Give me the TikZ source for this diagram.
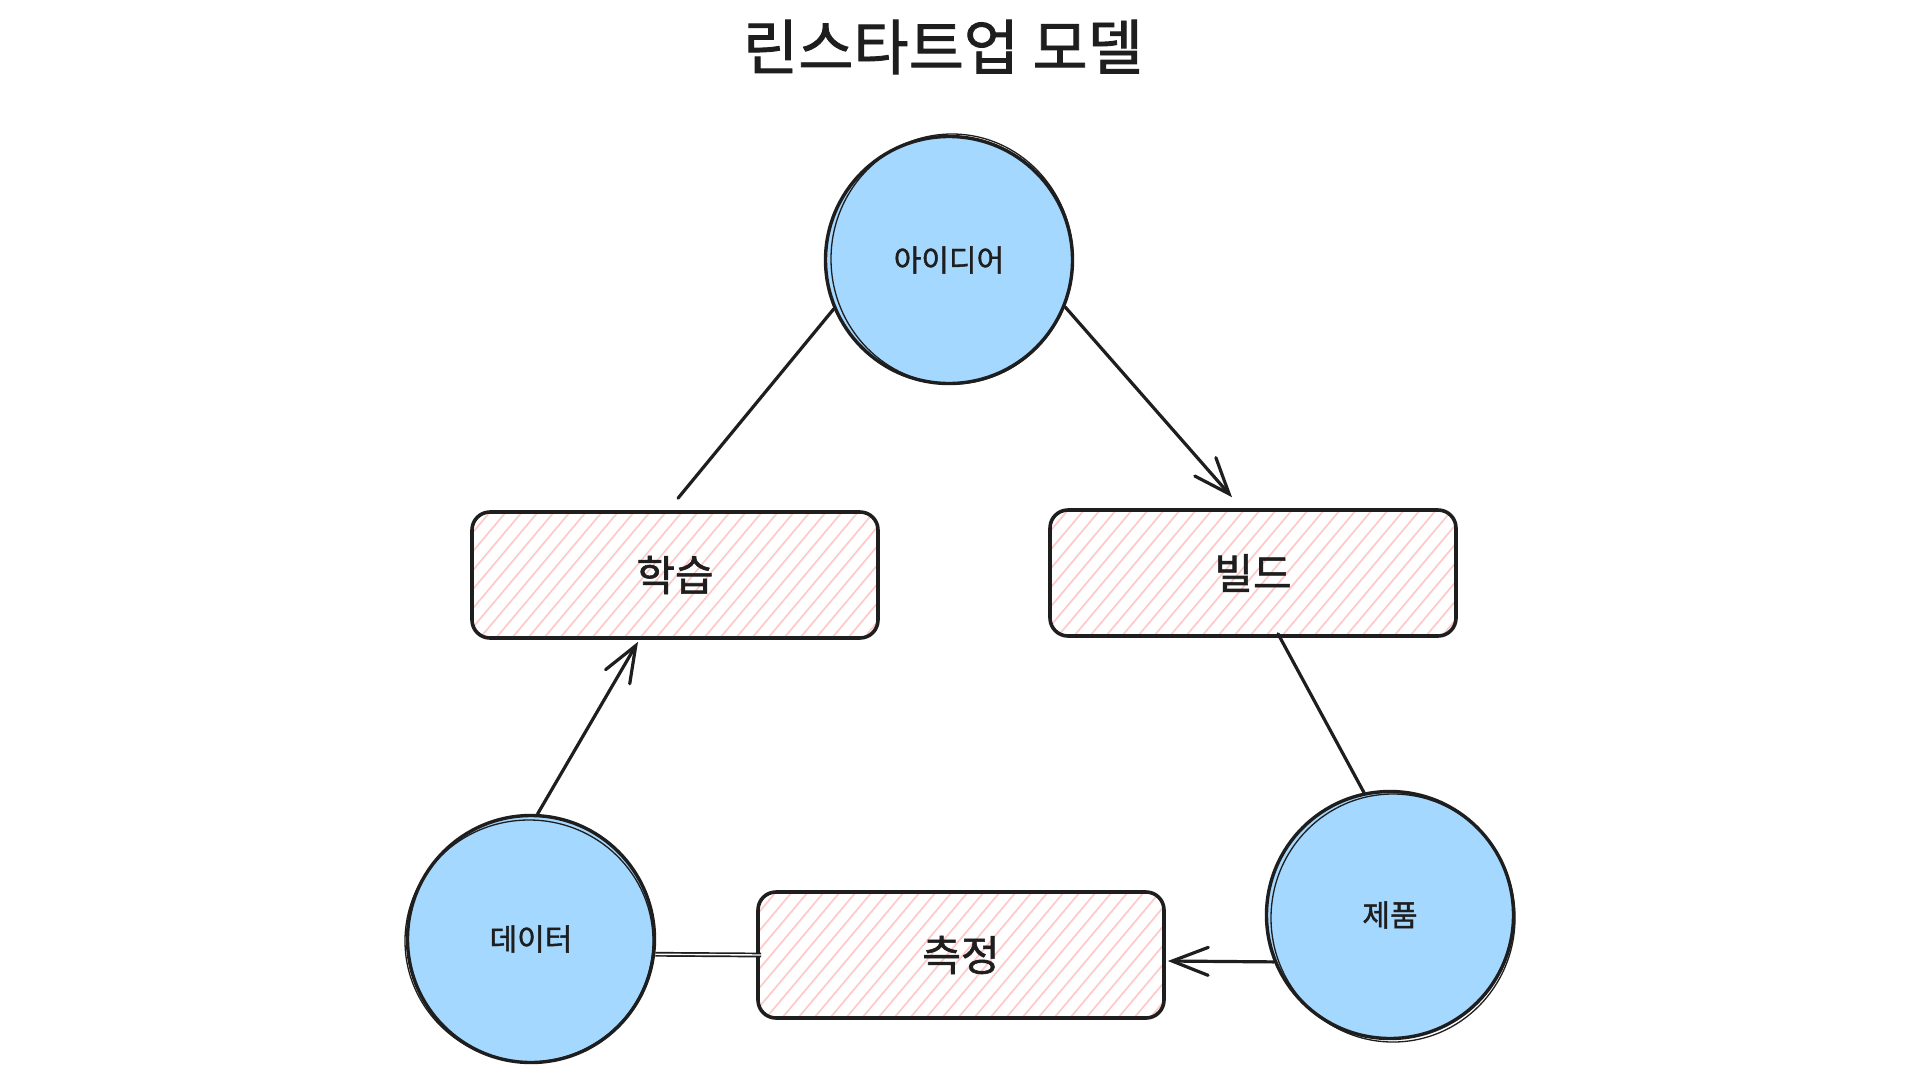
\documentclass[tikz,border=0pt]{standalone}
\usepackage{fontspec}
\setmainfont{Noto Sans CJK KR}
\newfontfamily\medfont{Noto Sans CJK KR}[FakeBold=1.4]
\usetikzlibrary{arrows.meta}
\definecolor{inkc}{HTML}{1E1E1E}
\definecolor{bluefill}{HTML}{A5D8FF}
\definecolor{hatchpink}{HTML}{FFC9C9}
\begin{document}
\begin{tikzpicture}[x=1pt,y=-1pt,
  circlenode/.style={circle, draw=inkc, fill=bluefill, line width=3.4pt,
    minimum size=247pt, inner sep=0pt, text=inkc,
    font=\fontsize{30}{34}\medfont},
  boxnode/.style={rectangle, rounded corners=18pt, draw=inkc, line width=3.6pt,
    minimum width=406pt, minimum height=126pt, text=inkc,
    font=\fontsize{42}{50}\medfont,
    path picture={\foreach \i in {-120,-104,...,420}
      \draw[hatchpink, line width=1.7pt]
        ([xshift=\i pt]path picture bounding box.south west) -- ++(106pt,126pt);}},
  sketch/.style={draw=inkc, line width=1.3pt},
  conn/.style={draw=inkc, line width=3.2pt, line cap=round},
  arr/.style={conn, -{Straight Barb[length=36pt,width=28pt,line cap=round]}}
]
\useasboundingbox (0,0) rectangle (1920,1080);
\fill[white] (0,0) rectangle (1920,1080);

\node[text=inkc, font=\fontsize{60}{70}\medfont] (title) at (943,47) {린스타트업 모델};

\node[circlenode] (idea) at (949,260) {아이디어};
\node[circlenode] (data) at (531,939) {데이터};
\node[circlenode] (prod) at (1390,915) {제품};

\node[boxnode] (learn) at (675,575) {학습};
\node[boxnode] (build) at (1253,573) {빌드};
\node[boxnode] (meas) at (961,955) {측정};

% sketchy second strokes
\draw[sketch] ([shift={(3pt,1pt)}]idea.center) ellipse (121pt and 125pt);
\draw[sketch] ([shift={(-2pt,-2pt)}]data.center) ellipse (124pt and 121pt);
\draw[sketch] ([shift={(3pt,-3pt)}]prod.center) ellipse (122pt and 124pt);

\draw[conn] (idea.203) -- ([xshift=3pt,yshift=12pt]learn.north);
\draw[arr] (idea.338) -- ([xshift=-21pt,yshift=11pt]build.north);
\draw[arr] (data.87) -- ([xshift=-37pt,yshift=-2pt]learn.south);
\draw[conn] ([xshift=25pt,yshift=4pt]build.south) -- (prod.102);
\draw[arr] (prod.202) -- ([xshift=2pt,yshift=-6pt]meas.east);
\draw[draw=inkc, line width=1.7pt, double=white, double distance=1.4pt]
  (data.353.5) -- ([xshift=5pt]meas.west);
\end{tikzpicture}
\end{document}
